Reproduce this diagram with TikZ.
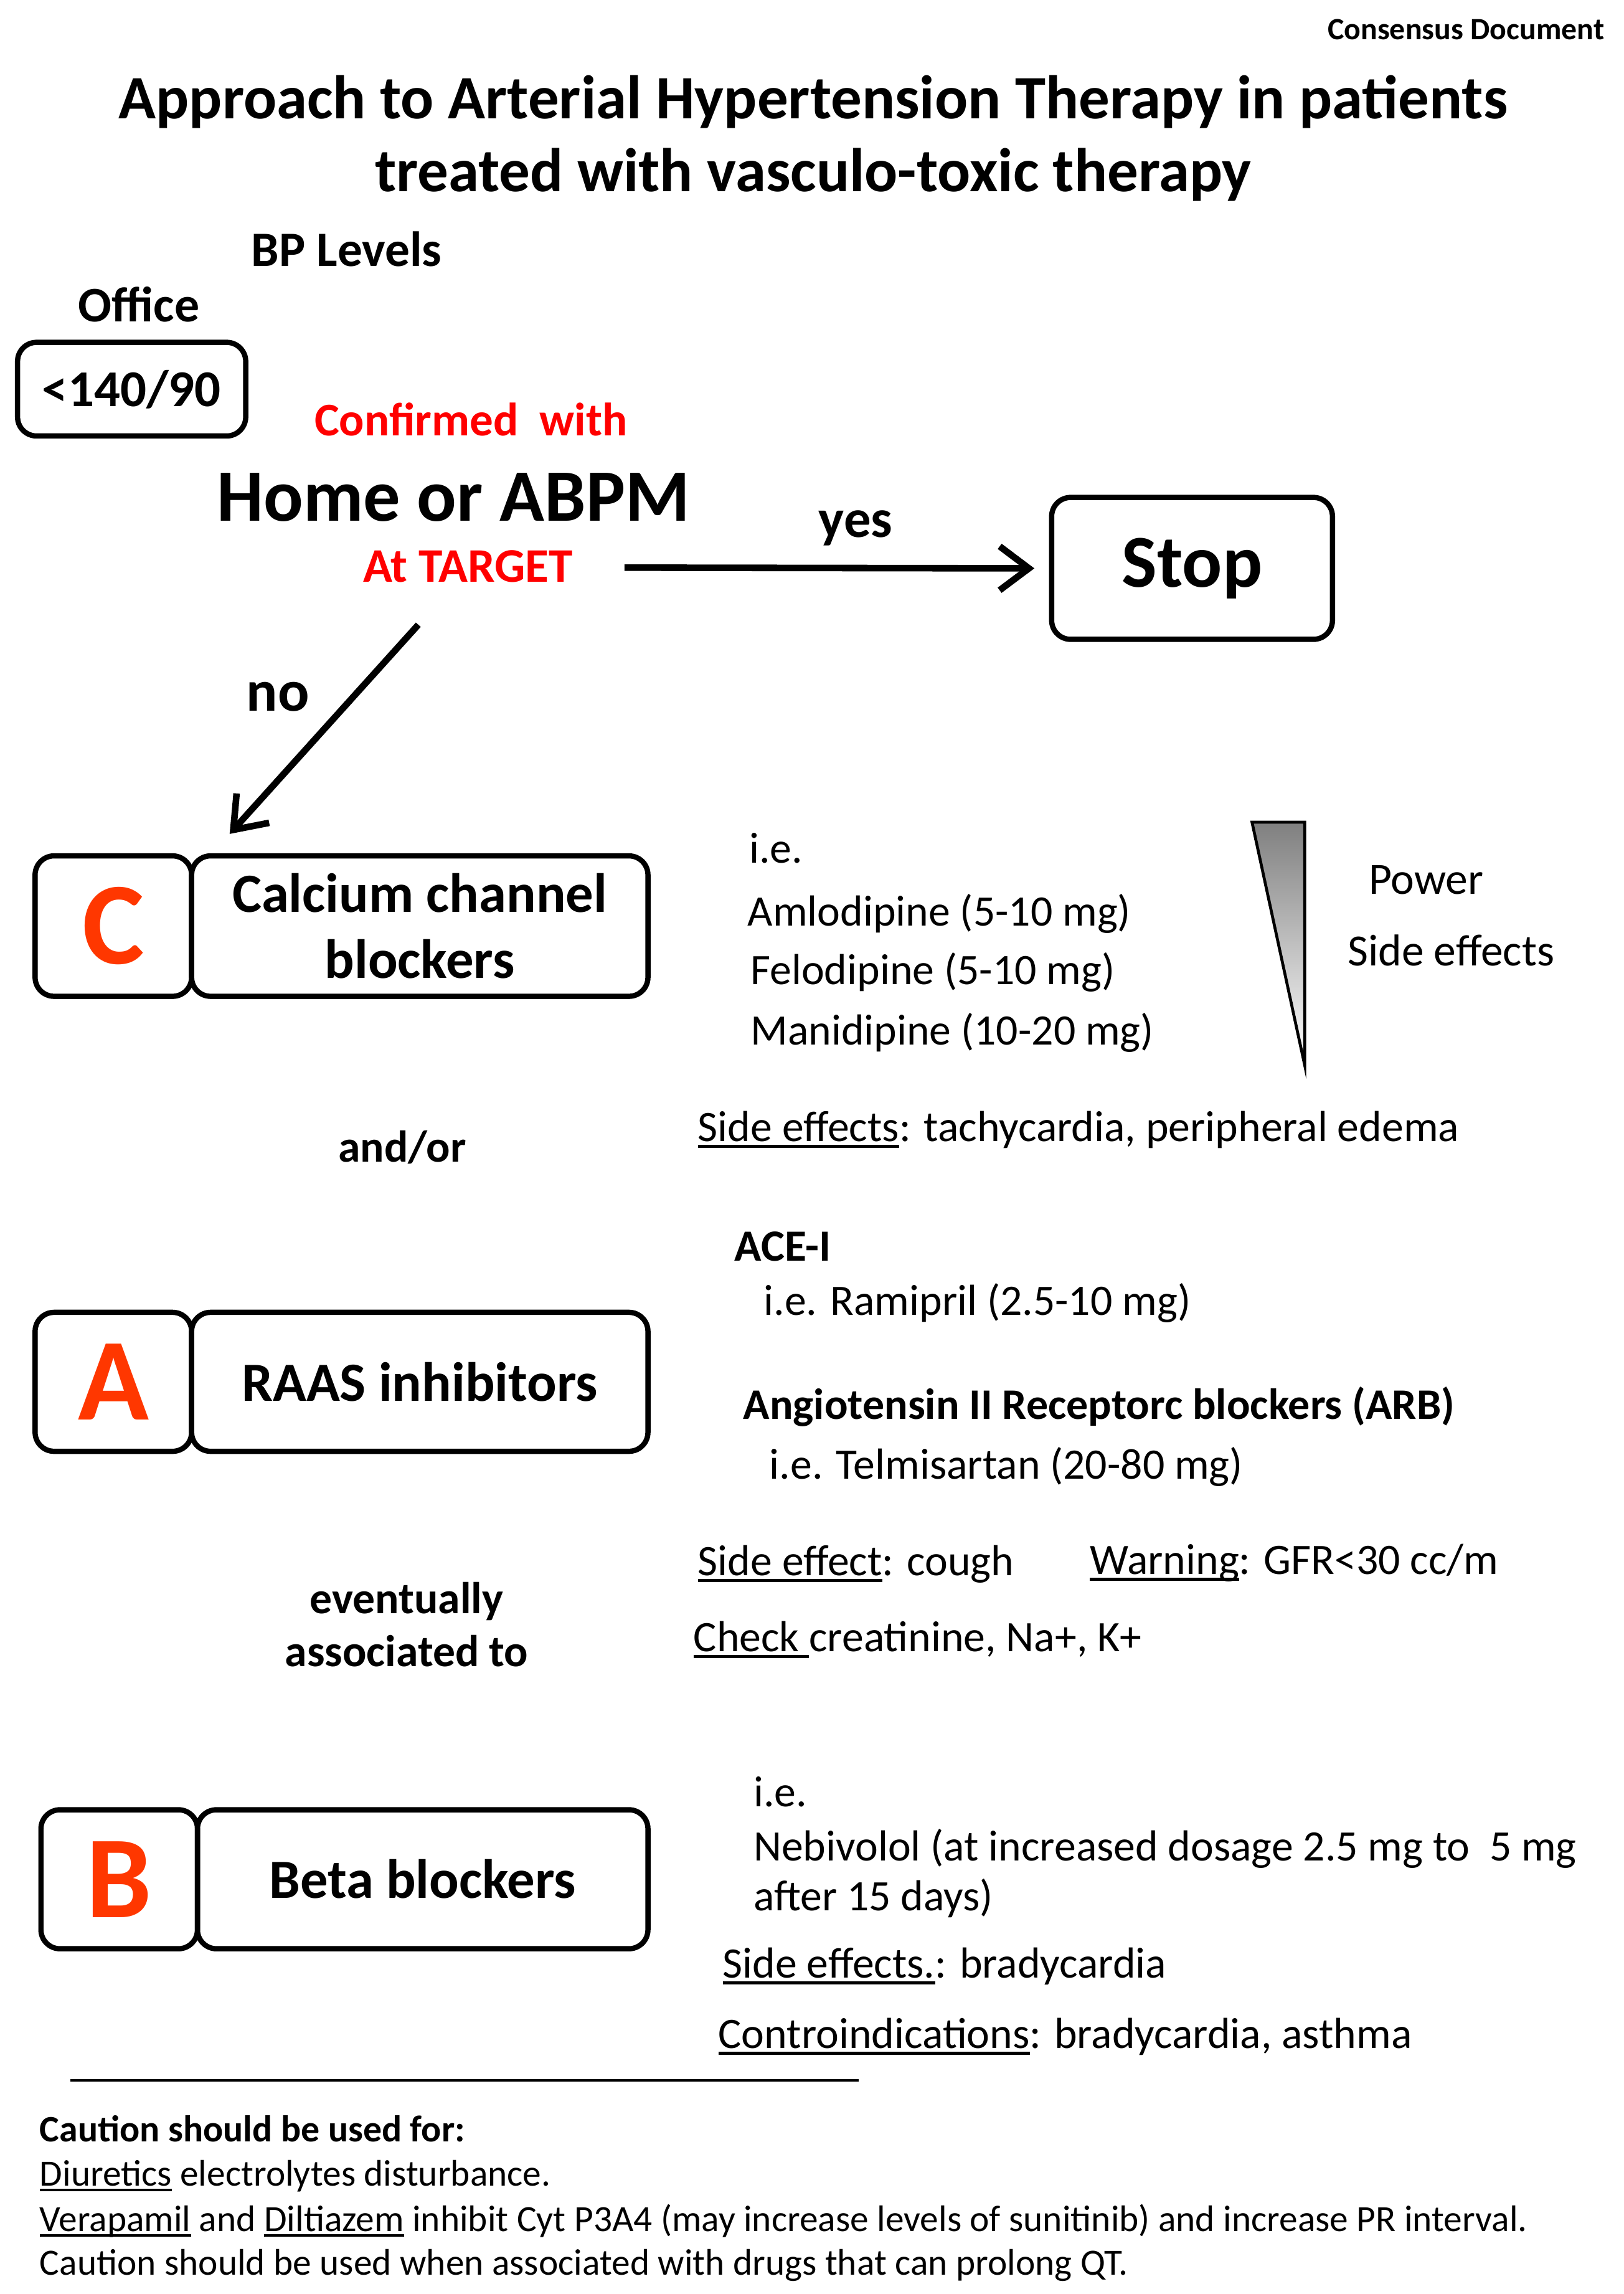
\documentclass[tikz,border=0pt]{standalone}
\usepackage{fontspec}
\setmainfont{Carlito}
\usetikzlibrary{arrows.meta}
\definecolor{lred}{RGB}{255,55,0}
\definecolor{tred}{RGB}{255,0,0}
\newcommand\fs[1]{\fontsize{#1}{#1}\selectfont}
\newcommand\uln[1]{\setbox0=\hbox{#1}\rlap{\rule[-0.15em]{\wd0}{0.07em}}\box0\relax}
\begin{document}
\begin{tikzpicture}[x=1pt,y=-1pt,
  txt/.style={inner sep=0pt, anchor=base west, font=\fs{29.7}},
  btxt/.style={inner sep=0pt, anchor=base, font=\fs{30.5}\bfseries},
  bx/.style={draw, line width=3.6pt, rounded corners=13pt, inner sep=0pt, align=center},
  letter/.style={bx, minimum width=107pt, font=\fs{80}\bfseries, text=lred},
  namebox/.style={bx, font=\fontsize{37.8}{45}\selectfont\bfseries},
  arr/.style={line width=4.5pt, -{Straight Barb[length=20pt,width=30pt]}},
  small/.style={inner sep=0pt, anchor=base west, font=\fs{25.3}}
]
\useasboundingbox (0,0) rectangle (1110,1568);

% header
\node[inner sep=0pt, anchor=base east, font=\fs{21.2}\bfseries] (cons) at (1097,27) {Consensus Document};
\node[inner sep=0pt, anchor=base, font=\fs{42.2}\bfseries] (t1) at (556,81) {Approach to Arterial Hypertension Therapy in patients};
\node[inner sep=0pt, anchor=base, font=\fs{42.2}\bfseries] (t2) at (556,131) {treated with vasculo-toxic therapy};

\node[btxt, font=\fs{33.8}\bfseries] (bp) at (237,182) {BP Levels};
\node[btxt, font=\fs{34}\bfseries] (office) at (95,220) {Office};
\node[bx, minimum width=156pt, minimum height=64pt, font=\fs{35.3}\bfseries] (off) at (90,266) {<140/90};

\node[btxt, font=\fs{32}\bfseries, text=tred] (conf) at (322,298) {Confirmed\ \ with};
\node[btxt, font=\fs{50.5}\bfseries] (home) at (310,356) {Home or ABPM};
\node[btxt, font=\fs{33}\bfseries, text=tred] (target) at (320,398) {At TARGET};

\node[bx, minimum width=192pt, minimum height=97pt, font=\fs{51}\bfseries] (stop) at (815,388.5) {Stop};
\coordinate (yesA) at (427,388);
\draw[arr, shorten >=10pt] (yesA) -- (stop.west);
\node[btxt, font=\fs{37}\bfseries] (yes) at (585,367) {yes};

\coordinate (noA) at (286,427);
\coordinate (noB) at (157,570);
\draw[arr] (noA) -- (noB);
\node[btxt, font=\fs{40}\bfseries] (no) at (190,486) {no};

% C
\node[letter, minimum height=96pt] (C) at (77.5,633) {C};
\node[namebox, minimum width=312pt, minimum height=96pt] (ccb) at (287,633) {Calcium channel\\blockers};

\node[txt] (ie1) at (512,590) {i.e.};
\node[txt] (aml) at (511,633) {Amlodipine (5-10 mg)};
\node[txt] (fel) at (513,673) {Felodipine (5-10 mg)};
\node[txt] (man) at (513,714) {Manidipine (10-20 mg)};

\coordinate (tra) at (856,562);
\coordinate (trb) at (892,562);
\coordinate (trc) at (892,728);
\shade[top color=black!50, bottom color=white] (tra) -- (trb) -- (trc) -- cycle;
\draw[line width=2pt, line join=miter] (tra) -- (trb) -- (trc) -- cycle;
\node[txt, anchor=base, font=\fs{30.5}] (power) at (975,611) {Power};
\node[txt, anchor=base, font=\fs{30.5}] (sidee) at (992,660) {Side effects};

\node[btxt] (andor) at (275,794) {and/or};
\node[txt] (se1) at (477,780) {\uln{Side effects}: tachycardia, peripheral edema};

% A
\node[txt, font=\fs{30.5}\bfseries] (ace) at (502,862) {ACE-I};
\node[txt] (ram) at (522,899) {i.e. Ramipril (2.5-10 mg)};
\node[letter, minimum height=95pt] (A) at (77.5,944.5) {A};
\node[namebox, minimum width=312pt, minimum height=95pt] (raas) at (287,944.5) {RAAS inhibitors};
\node[txt, font=\fs{29.8}\bfseries] (arb) at (508,970) {Angiotensin II Receptorc blockers (ARB)};
\node[txt] (tel) at (526,1011) {i.e. Telmisartan (20-80 mg)};

\node[txt] (se2) at (477,1077) {\uln{Side effect}: cough};
\node[txt] (warn) at (745,1076) {\uln{Warning}: GFR<30 cc/m};
\node[btxt] (ev1) at (278,1103) {eventually};
\node[btxt] (ev2) at (278,1139) {associated to};
\node[txt] (check) at (474,1129) {\uln{Check\ }creatinine, Na+, K+};

% B
\node[letter, minimum height=95pt] (B) at (81.5,1284.5) {B};
\node[namebox, minimum width=308pt, minimum height=95pt] (beta) at (289,1284.5) {Beta blockers};
\node[txt] (ie3) at (515,1235) {i.e.};
\node[txt] (neb) at (515,1272) {Nebivolol (at increased dosage 2.5 mg to\ \ 5 mg};
\node[txt] (neb2) at (515,1306) {after 15 days)};
\node[txt] (se3) at (494,1352) {\uln{Side effects.}: bradycardia};
\node[txt] (contra) at (491,1400) {\uln{Controindications}: bradycardia, asthma};

\coordinate (hl1) at (48,1422);
\coordinate (hl2) at (587,1422);
\draw[line width=2pt] (hl1) -- (hl2);

\node[small, font=\fs{25.5}\bfseries] (caut) at (27,1464) {Caution should be used for:};
\node[small] (diu) at (27,1494) {\uln{Diuretics} electrolytes disturbance.};
\node[small] (ver) at (27,1525) {\uln{Verapamil} and \uln{Diltiazem} inhibit Cyt P3A4 (may increase levels of sunitinib) and increase PR interval.};
\node[small] (caut2) at (27,1555) {Caution should be used when associated with drugs that can prolong QT.};
\end{tikzpicture}
\end{document}
